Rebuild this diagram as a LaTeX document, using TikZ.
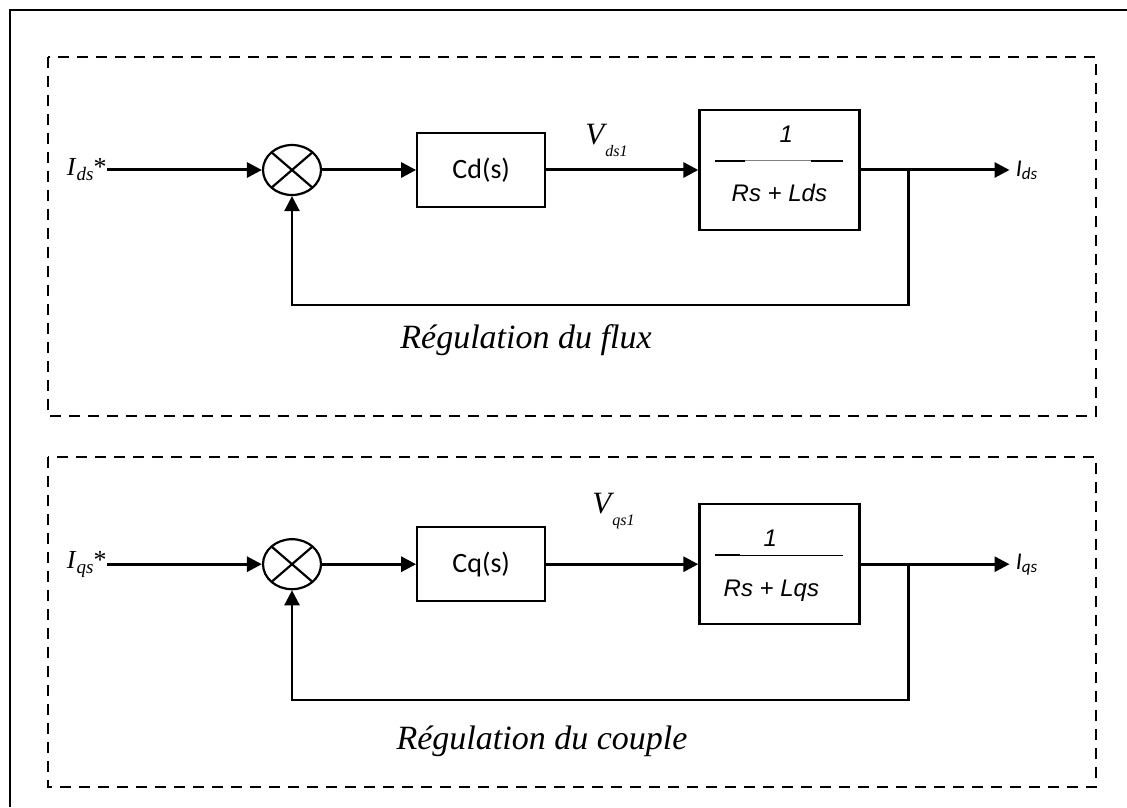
\documentclass[tikz,border=0pt]{standalone}
\usepackage{fontspec}
\setmainfont{Liberation Serif}
\newfontfamily\carlito{Carlito}
\newfontfamily\arialfont{Liberation Sans}
\usetikzlibrary{shapes.geometric, arrows.meta, positioning}

\begin{document}
\begin{tikzpicture}[
  x=0.5pt, y=-0.5pt,
  sumnode/.style={ellipse, draw, line width=1.1pt, minimum width=29pt, minimum height=25pt, inner sep=0pt,
    path picture={\draw[line width=1.1pt] (path picture bounding box.north west) -- (path picture bounding box.south east)
      (path picture bounding box.north east) -- (path picture bounding box.south west);}},
  ctrl/.style={rectangle, draw, line width=1.1pt, minimum width=64pt, minimum height=37pt, font=\carlito\fontsize{14}{16}\selectfont},
  plant/.style={rectangle, draw, line width=1.1pt, minimum width=80pt, minimum height=60pt},
  frac/.style={font=\arialfont\itshape\fontsize{12}{14}\selectfont, inner sep=0pt, anchor=base},
  lbl/.style={inner sep=0pt},
  caplabel/.style={font=\itshape\fontsize{17}{20}\selectfont, inner sep=0pt, anchor=base},
  arrow/.style={-{Triangle[length=7.5pt, width=7.5pt]}, line width=1.5pt},
  fb/.style={-{Triangle[length=7.5pt, width=7.5pt]}, line width=1.2pt},
  dashbox/.style={line width=1pt, dash pattern=on 5.5pt off 4pt}
]
  \useasboundingbox (0,0) rectangle (1127,807);
  \draw[line width=1.2pt] (10,807) -- (10,10) -- (1127,10);
  \draw[dashbox] (48,57) rectangle (1096,416);
  \draw[dashbox] (48,457) rectangle (1096,787);

  % Flux loop
  \node[sumnode] (sum1) at (292,170) {};
  \node[ctrl, right=47pt of sum1] (ctrl1) {Cd(s)};
  \node[plant, right=76pt of ctrl1] (plant1) {};
  \node[lbl, left=77.5pt of sum1, font=\fontsize{13}{15}\selectfont] (ref1)
    {\textit{I}\raisebox{-2.5pt}{\fontsize{9.5}{10}\selectfont\textit{ds}}*};
  \node[lbl, anchor=base west, font=\fontsize{15.5}{17}\selectfont] (v1) at (585,145)
    {\textit{V}\kern-1pt\raisebox{-6pt}{\fontsize{8}{9}\selectfont\textit{ds1}}};
  \node[frac] (num1) at ([shift={(3.5pt,13.5pt)}]plant1.center) {1};
  \node[frac] (den1) at ([shift={(0pt,-16pt)}]plant1.center) {Rs + Lds};
  \draw[line width=1.1pt] ([shift={(-32pt,4.5pt)}]plant1.center) -- ([shift={(-17pt,4.5pt)}]plant1.center);
  \draw[gray, line width=0.5pt] ([shift={(-17pt,4.5pt)}]plant1.center) -- ([shift={(16pt,4.5pt)}]plant1.center);
  \draw[line width=1.1pt] ([shift={(16pt,4.5pt)}]plant1.center) -- ([shift={(32pt,4.5pt)}]plant1.center);
  \coordinate[right=24pt of plant1.east] (br1);
  \coordinate[right=74.5pt of plant1.east] (out1);
  \coordinate[below=67.5pt of br1] (fb1);
  \node[lbl, right=3pt of out1, font=\carlito\fontsize{12}{14}\selectfont] (y1)
    {\textit{I}\raisebox{-1.5pt}{\fontsize{8.5}{9}\selectfont\textit{ds}}};
  \draw[arrow] (ref1) -- (sum1);
  \draw[arrow] (sum1) -- (ctrl1);
  \draw[arrow] (ctrl1) -- (plant1);
  \draw[arrow] (plant1) -- (out1);
  \draw[fb] (br1) -- (fb1) -| (sum1);
  \node[caplabel] (cap1) at (526,348) {Régulation du flux};

  % Couple loop
  \node[sumnode, below=171pt of sum1] (sum2) {};
  \node[ctrl, right=47pt of sum2] (ctrl2) {Cq(s)};
  \node[plant, right=76pt of ctrl2] (plant2) {};
  \node[lbl, left=77.5pt of sum2, font=\fontsize{13}{15}\selectfont] (ref2)
    {\textit{I}\raisebox{-2.5pt}{\fontsize{9.5}{10}\selectfont\textit{qs}}*};
  \node[lbl, anchor=base west, font=\fontsize{15.5}{17}\selectfont] (v2) at (592,513)
    {\textit{V}\kern-1pt\raisebox{-6pt}{\fontsize{8}{9}\selectfont\textit{qs1}}};
  \node[frac] (num2) at ([shift={(-4.5pt,9pt)}]plant2.center) {1};
  \node[frac] (den2) at ([shift={(-4pt,-16pt)}]plant2.center) {Rs + Lqs};
  \draw[line width=1.1pt] ([shift={(-32pt,4.5pt)}]plant2.center) -- ([shift={(-19.5pt,4.5pt)}]plant2.center);
  \draw[line width=0.6pt] ([shift={(-19.5pt,4.5pt)}]plant2.center) -- ([shift={(32pt,4.5pt)}]plant2.center);
  \coordinate[right=24pt of plant2.east] (br2);
  \coordinate[right=74.5pt of plant2.east] (out2);
  \coordinate[below=68pt of br2] (fb2);
  \node[lbl, right=3pt of out2, font=\carlito\fontsize{12}{14}\selectfont] (y2)
    {\textit{I}\raisebox{-1.5pt}{\fontsize{8.5}{9}\selectfont\textit{qs}}};
  \draw[arrow] (ref2) -- (sum2);
  \draw[arrow] (sum2) -- (ctrl2);
  \draw[arrow] (ctrl2) -- (plant2);
  \draw[arrow] (plant2) -- (out2);
  \draw[fb] (br2) -- (fb2) -| (sum2);
  \node[caplabel] (cap2) at (542,749) {Régulation du couple};
\end{tikzpicture}
\end{document}
